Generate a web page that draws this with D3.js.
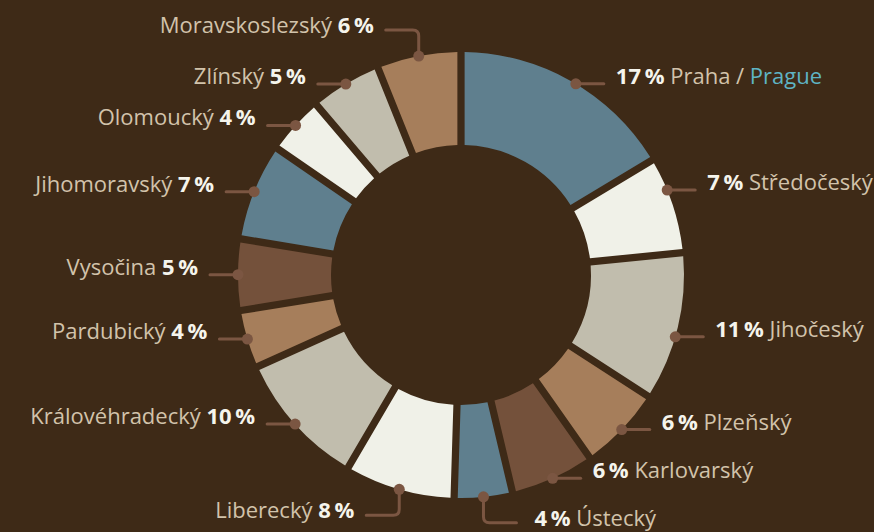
<!DOCTYPE html>
<html>
<head>
<meta charset="utf-8">
<script src="https://cdn.jsdelivr.net/npm/d3@7"></script>
<style>
  html, body { margin: 0; padding: 0; background: #3e2a17; }
  svg { display: block; }
  text { font-family: "Open Sans", "Noto Sans", sans-serif; font-size: 22px; }
</style>
</head>
<body>
<script>
// regions in drawing order, clockwise from the top
const regions = ["Praha", "Středočeský", "Jihočeský", "Plzeňský", "Karlovarský", "Ústecký",
  "Liberecký", "Královéhradecký", "Pardubický", "Vysočina", "Jihomoravský", "Olomoucký",
  "Zlínský", "Moravskoslezský"];
const shares = [17, 7, 11, 6, 6, 4, 8, 10, 4, 5, 7, 4, 5, 6];
const extraName = { "Praha": "Prague" };
// labels whose leader line bends vertically first
const elbowLabels = ["Ústecký", "Liberecký", "Moravskoslezský"];
// small angular nudges (degrees) for a few label anchors
const labelNudge = { "Středočeský": -4, "Jihočeský": 2.5, "Praha": 1.5 };
const palette = ["#5f7f8e", "#f0f1e8", "#c1bdad", "#a67e5b", "#74513b"];

const width = 874, height = 532;
const cx = 461, cy = 275;
const outer = 223, inner = 130;
const leaderColor = "#7b5642";

const svg = d3.select("body").append("svg")
  .attr("width", width)
  .attr("height", height);

const g = svg.append("g").attr("transform", `translate(${cx},${cy})`);

const data = regions.map((r, i) => ({ name: r, value: shares[i] }));

const pie = d3.pie().sort(null).value(d => d.value).padAngle(0.028);
const arc = d3.arc().innerRadius(inner).outerRadius(outer);
const arcs = pie(data);

g.selectAll("path.slice")
  .data(arcs)
  .enter()
  .append("path")
  .attr("class", "slice")
  .attr("d", arc)
  .attr("fill", (d, i) => palette[i % palette.length]);

// labels
arcs.forEach(d => {
  const a = (d.startAngle + d.endAngle) / 2 + (labelNudge[d.data.name] || 0) * Math.PI / 180;
  const px = Math.sin(a) * outer, py = -Math.cos(a) * outer;
  const right = px >= 0;
  const elbow = elbowLabels.includes(d.data.name);
  const dir = right ? 1 : -1;

  let lineEndX, lineY, pathD, side;
  if (elbow) {
    const up = py < 0 ? -1 : 1;
    const vy = py + up * 26;
    const hdir = d.data.name === "Ústecký" ? 1 : -1;
    lineEndX = px + hdir * 33;
    lineY = vy;
    pathD = `M${px},${py} V${vy - up * 6} Q${px},${vy} ${px + hdir * 6},${vy} H${lineEndX}`;
    side = hdir;
  } else {
    lineEndX = px + dir * 28;
    lineY = py;
    pathD = `M${px},${py} H${lineEndX}`;
    side = dir;
  }

  g.append("path")
    .attr("d", pathD)
    .attr("fill", "none")
    .attr("stroke", leaderColor)
    .attr("stroke-width", 3)
    .attr("stroke-linecap", "round");

  g.append("circle")
    .attr("cx", px).attr("cy", py).attr("r", 5.5)
    .attr("fill", leaderColor);

  const gap = d.data.name === "Ústecký" ? 18 : 12;
  const t = g.append("text")
    .attr("x", lineEndX + side * gap)
    .attr("y", lineY + (elbow ? 3 : 0))
    .attr("text-anchor", side > 0 ? "start" : "end");

  const pct = d.data.value + "\u2009%";
  if (side > 0) {
    t.append("tspan").attr("font-weight", "bold").attr("fill", "#f5f4ec").text(pct);
    t.append("tspan").attr("fill", "#d2c3ab").text(" " + d.data.name);
    if (extraName[d.data.name]) {
      t.append("tspan").attr("fill", "#d2c3ab").text(" / ");
      t.append("tspan").attr("fill", "#5fb4c4").text(extraName[d.data.name]);
    }
  } else {
    t.append("tspan").attr("fill", "#d2c3ab").text(d.data.name + " ");
    t.append("tspan").attr("font-weight", "bold").attr("fill", "#f5f4ec").text(pct);
  }
});
</script>
</body>
</html>
